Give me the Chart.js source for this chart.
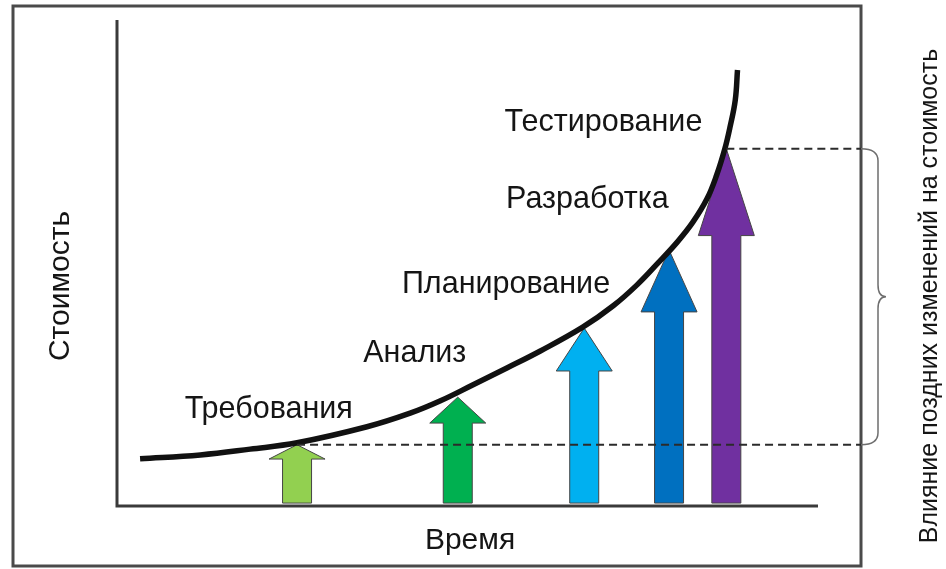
<!DOCTYPE html>
<html lang="ru">
<head>
<meta charset="utf-8">
<title>Стоимость изменений</title>
<script src="https://cdn.jsdelivr.net/npm/chart.js@4.4.1/dist/chart.umd.min.js"></script>
<style>
  html, body { margin: 0; padding: 0; background: #fff; }
  #wrap { width: 946px; height: 569px; position: relative; }
</style>
</head>
<body>
<div id="wrap"><canvas id="chart"></canvas></div>
<script>
// ---- data (time / cost in arbitrary units) ----
const curveX = [0.31, 1.12, 1.79, 2.42, 3.36, 3.94, 4.34, 4.78, 5.24, 5.69, 6.26, 6.67, 6.99,
                7.26, 7.53, 7.74, 7.93, 8.06, 8.17, 8.24, 8.31, 8.34];
const curveY = [0.97, 1.05, 1.17, 1.30, 1.63, 1.91, 2.16, 2.49, 2.84, 3.19, 3.68, 4.12, 4.55,
                4.98, 5.43, 5.84, 6.32, 6.81, 7.35, 7.80, 8.35, 8.97];

const stages     = ['Требования', 'Анализ', 'Планирование', 'Разработка', 'Тестирование'];
const arrowX     = [2.42, 4.58, 6.28, 7.42, 8.19];
const arrowTip   = [1.26, 2.24, 3.66, 5.27, 7.35];
const arrowBase  = 0.06;
const arrowColors = ['#92D050', '#00B050', '#00B0F0', '#0070C0', '#7030A0'];

const xTitle = 'Время';
const yTitle = 'Стоимость';
const braceTitle = 'Влияние поздних изменений на стоимость';

const X_MAX = 10;
const Y_MAX = 10;

const FONT = '"Liberation Sans", Arial, sans-serif';

// stage label anchors (left / baseline, in chart units)
const labelAnchor = [[0.91, 1.81], [3.31, 2.96], [3.83, 4.38], [5.23, 6.13], [5.21, 7.72]];

// ── Frame, axes, arrows (under the curve) ────────────────
const backdrop = {
  id: 'backdrop',
  beforeDatasetsDraw(chart) {
    const { ctx, scales: { x, y }, chartArea } = chart;
    ctx.save();

    // outer frame
    ctx.strokeStyle = '#4a4a4a';
    ctx.lineWidth = 3;
    ctx.strokeRect(13, 6, chartArea.right - 13, 560);

    // axes
    ctx.strokeStyle = '#3a3a3a';
    ctx.lineWidth = 3;
    ctx.beginPath();
    ctx.moveTo(chartArea.left, chartArea.top);
    ctx.lineTo(chartArea.left, chartArea.bottom);
    ctx.lineTo(818, chartArea.bottom);
    ctx.stroke();

    // arrows
    const shaftW = 29, headW = 56;
    arrowX.forEach((v, i) => {
      const cx = x.getPixelForValue(v);
      const top = y.getPixelForValue(arrowTip[i]);
      const bot = y.getPixelForValue(arrowBase);
      const headH = (bot - top) * 0.245;
      ctx.beginPath();
      ctx.moveTo(cx - shaftW / 2, bot);
      ctx.lineTo(cx - shaftW / 2, top + headH);
      ctx.lineTo(cx - headW / 2, top + headH);
      ctx.lineTo(cx, top);
      ctx.lineTo(cx + headW / 2, top + headH);
      ctx.lineTo(cx + shaftW / 2, top + headH);
      ctx.lineTo(cx + shaftW / 2, bot);
      ctx.closePath();
      ctx.fillStyle = arrowColors[i];
      ctx.fill();
      ctx.strokeStyle = '#454545';
      ctx.lineWidth = 1;
      ctx.stroke();
    });
    ctx.restore();
  },

  afterDraw(chart) {
    const { ctx, scales: { x, y }, chartArea } = chart;
    ctx.save();

    // brace between the two dashed levels
    const yTop = y.getPixelForValue(arrowTip[arrowTip.length - 1]);
    const yBot = y.getPixelForValue(arrowTip[0]);
    const yMid = (yTop + yBot) / 2;
    const x0 = chartArea.right, x1 = x0 + 17, xt = x0 + 25, r = 12;
    ctx.strokeStyle = '#6e6e6e';
    ctx.lineWidth = 1.5;
    ctx.beginPath();
    ctx.moveTo(x0, yTop);
    ctx.quadraticCurveTo(x1, yTop, x1, yTop + r);
    ctx.lineTo(x1, yMid - r);
    ctx.quadraticCurveTo(x1, yMid, xt, yMid);
    ctx.quadraticCurveTo(x1, yMid, x1, yMid + r);
    ctx.lineTo(x1, yBot - r);
    ctx.quadraticCurveTo(x1, yBot, x0, yBot);
    ctx.stroke();

    // stage labels
    ctx.fillStyle = '#151515';
    ctx.font = '30.5px ' + FONT;
    ctx.textBaseline = 'alphabetic';
    ctx.textAlign = 'left';
    stages.forEach((s, i) => {
      ctx.fillText(s, x.getPixelForValue(labelAnchor[i][0]), y.getPixelForValue(labelAnchor[i][1]));
    });

    // x title
    ctx.font = '30px ' + FONT;
    ctx.textAlign = 'center';
    ctx.fillText(xTitle, 470, 549);

    // y title (rotated)
    ctx.save();
    ctx.translate(69, 286);
    ctx.rotate(-Math.PI / 2);
    ctx.textAlign = 'center';
    ctx.fillText(yTitle, 0, 0);
    ctx.restore();

    // brace caption (rotated)
    ctx.save();
    ctx.font = '25px ' + FONT;
    ctx.translate(937, 296);
    ctx.rotate(-Math.PI / 2);
    ctx.textAlign = 'center';
    ctx.fillText(braceTitle, 0, 0);
    ctx.restore();

    ctx.restore();
  },
};

const curve = curveX.map((v, i) => ({ x: v, y: curveY[i] }));
const lowLevel = [{ x: arrowX[0], y: arrowTip[0] }, { x: X_MAX, y: arrowTip[0] }];
const last = arrowX.length - 1;
const highLevel = [{ x: arrowX[last], y: arrowTip[last] }, { x: X_MAX, y: arrowTip[last] }];

new Chart(document.getElementById('chart'), {
  type: 'line',
  data: {
    datasets: [
      {
        data: lowLevel,
        borderColor: '#2b2b2b',
        borderWidth: 2,
        borderDash: [8, 5],
        pointRadius: 0,
      },
      {
        data: highLevel,
        borderColor: '#2b2b2b',
        borderWidth: 2,
        borderDash: [8, 5],
        pointRadius: 0,
      },
      {
        data: curve,
        borderColor: '#111111',
        borderWidth: 5.5,
        pointRadius: 0,
        tension: 0.4,
        borderCapStyle: 'butt',
      },
    ],
  },
  options: {
    responsive: true,
    maintainAspectRatio: false,
    animation: false,
    layout: { padding: { left: 117, top: 20, right: 85, bottom: 63 } },
    plugins: { legend: { display: false }, tooltip: { enabled: false } },
    scales: {
      x: { type: 'linear', min: 0, max: X_MAX, display: false },
      y: { type: 'linear', min: 0, max: Y_MAX, display: false },
    },
  },
  plugins: [backdrop],
});
</script>
</body>
</html>
